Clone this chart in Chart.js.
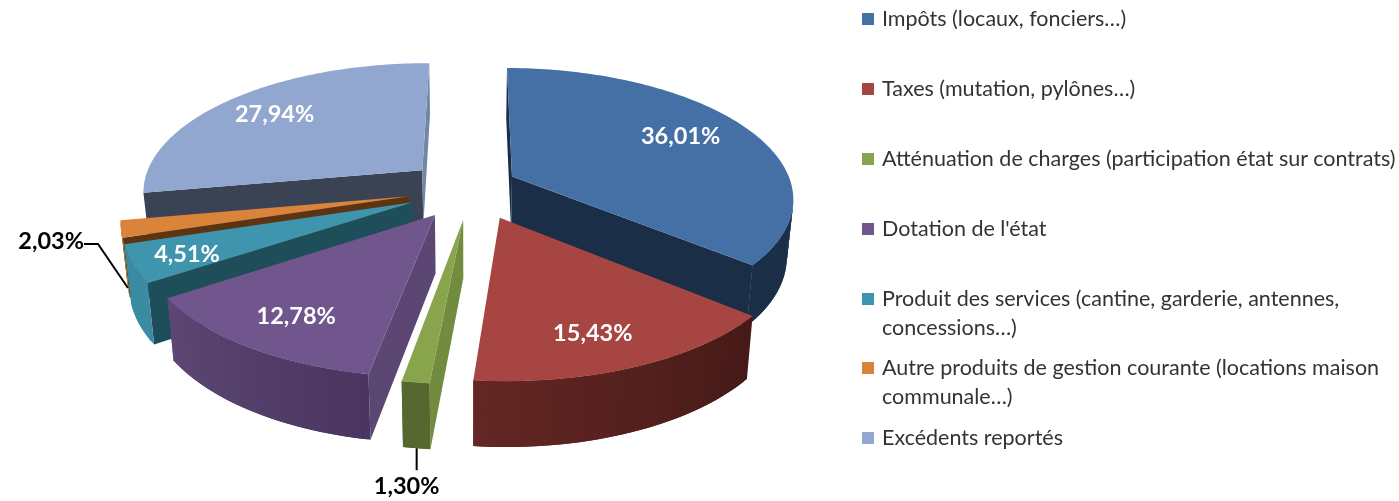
<!DOCTYPE html>
<html lang="fr">
<head>
<meta charset="utf-8">
<title>Recettes</title>
<script src="https://cdn.jsdelivr.net/npm/chart.js@4"></script>
<style>
  html, body { margin: 0; background: #fff; }
  #wrap { position: relative; width: 1399px; height: 501px; overflow: hidden; }
  #chart { position: absolute; left: 0; top: 0; }
  #legend {
    position: absolute; left: 862px; top: 4px; margin: 0; padding: 0; list-style: none;
    display: grid; grid-auto-rows: 69.9px; width: 537px;
    font: 21.5px/29px Lato, sans-serif; color: #333;
  }
  #legend li { display: flex; align-items: flex-start; white-space: nowrap; }
  #legend i { flex: none; width: 12px; height: 12px; margin: 9px 8px 0 0; }
</style>
</head>
<body>
<div id="wrap">
  <canvas id="chart" width="1399" height="501"></canvas>
  <ul id="legend"></ul>
</div>
<script>
const legendLines = [
  ["Impôts (locaux, fonciers…)"],
  ["Taxes (mutation, pylônes…)"],
  ["Atténuation de charges (participation état sur contrats)"],
  ["Dotation de l'état"],
  ["Produit des services (cantine, garderie, antennes,", "concessions…)"],
  ["Autre produits de gestion courante (locations maison", "communale…)"],
  ["Excédents reportés"]
];
const shares = [36.01, 15.43, 1.30, 12.78, 4.51, 2.03, 27.94];

// colours of each slice: top, cut at start edge, cut at end edge, rim from, rim to
const topColors   = ["#4570a5", "#a64542", "#88a44c", "#71568e", "#4095ae", "#d9833b", "#91a7cf"];
const startColors = ["#1a2e47", "#451a18", "#728c3f", "#5c4673", "#1f4e5b", "#5c3412", "#3a4354"];
const endColors   = ["#1a2e47", "#642724", "#56682f", "#5e4774", "#3b8ba2", "#b06c2e", "#7286a8"];
const rimFrom     = ["#1b2f48", "#451a18", "#56682f", "#4a3660", "#3b8ba2", "#b06c2e", "#3a4354"];
const rimTo       = ["#1b2f48", "#642724", "#56682f", "#5e4774", "#3b8ba2", "#b06c2e", "#3a4354"];

// extra sideways slide of each exploded slice, the original perspective pushes them unevenly
const slideX = [-4, 12, 6, 2, 0, 0, 0];
// how far along the slice radius the white label sits (null = outside with a leader)
const labelReach = [0.72, 0.78, null, 0.76, 0.8, null, 0.76];
const labelNudge = [[-2, -4], [-9, 4], null, [-1, 5], [-5, 3], null, [-2, 0]];
// leader line steps from the bottom of the rim, then where the text goes
const leaders = {
  2: { steps: [[0, 22]], align: "center", text: [-10, 16] },
  5: { steps: [[-30, -44], [-14, 0]], align: "right", text: [0, -3] }
};

const pct = (v) => v.toFixed(2).replace(".", ",") + "%";

// Legend
const legendEl = document.getElementById("legend");
legendLines.forEach((lines, i) => {
  const li = document.createElement("li");
  li.innerHTML = `<i style="background:${topColors[i]}"></i><span>${lines.join("<br>")}</span>`;
  legendEl.appendChild(li);
});

// Perspective of the pie plane, x/y are pixels from the pie centre
const tilt = 0.458, growX = 0.156, growY = 0.153, depth = 57, growZ = 0.11, lean = 0.02, leanShift = 5;
const explodeY = 1.15;

function projector(arc) {
  const R = arc.outerRadius;
  return (px, py) => {
    const v = py / R;
    const top = {
      x: arc.x + px / (1 - growX * v),
      y: arc.y + tilt * py / (1 - growY * v)
    };
    const low = {
      x: top.x - (top.x - arc.x - leanShift) * lean,
      y: top.y + depth / (1 - growZ * v)
    };
    return { top, low };
  };
}

function mix(a, b, t) {
  const n = (c, s) => parseInt(c.substr(s, 2), 16);
  const ch = (s) => Math.round(n(a, s) + (n(b, s) - n(a, s)) * t);
  return `rgb(${ch(1)},${ch(3)},${ch(5)})`;
}

function quad(ctx, a, b, color) {
  ctx.fillStyle = color;
  ctx.beginPath();
  ctx.moveTo(a.top.x, a.top.y);
  ctx.lineTo(b.top.x, b.top.y);
  ctx.lineTo(b.low.x, b.low.y);
  ctx.lineTo(a.low.x, a.low.y);
  ctx.closePath();
  ctx.fill();
}

// a side face only shows when its top edge runs right to left on screen
const facing = (a, b) => b.top.x < a.top.x;

function sliceParts(arc, i) {
  const project = projector(arc);
  const mid = (arc.startAngle + arc.endAngle) / 2;
  const ox = Math.cos(mid) * arc.options.offset + slideX[i];
  const oy = Math.sin(mid) * arc.options.offset * explodeY;
  const R = arc.outerRadius;
  const at = (a, r) => project(ox + Math.cos(a) * r, oy + Math.sin(a) * r);
  const rim = [];
  const steps = Math.max(2, Math.ceil((arc.endAngle - arc.startAngle) / 0.02));
  for (let s = 0; s <= steps; s++) {
    rim.push(at(arc.startAngle + (arc.endAngle - arc.startAngle) * s / steps, R));
  }
  return { apex: project(ox, oy), rim, mid, at, R, oy };
}

const pie3d = {
  id: "pie3d",
  beforeDatasetsDraw(chart) {
    const ctx = chart.ctx;
    const arcs = chart.getDatasetMeta(0).data;
    const parts = arcs.map(sliceParts);
    const order = arcs.map((_, i) => i).sort((a, b) => parts[a].oy - parts[b].oy);

    ctx.save();
    order.forEach((i) => {
      const { apex, rim } = parts[i];
      const last = rim.length - 1;
      if (facing(apex, rim[0])) quad(ctx, apex, rim[0], startColors[i]);
      if (facing(rim[last], apex)) quad(ctx, rim[last], apex, endColors[i]);
      for (let s = 0; s < last; s++) {
        // overlap the next strip so no seam shows between them
        if (facing(rim[s], rim[s + 1])) {
          quad(ctx, rim[s], rim[Math.min(s + 2, last)], mix(rimFrom[i], rimTo[i], s / last));
        }
      }
      ctx.fillStyle = topColors[i];
      ctx.beginPath();
      ctx.moveTo(apex.top.x, apex.top.y);
      rim.forEach((p) => ctx.lineTo(p.top.x, p.top.y));
      ctx.closePath();
      ctx.fill();
    });

    // Labels
    ctx.font = "bold 23.5px Lato, sans-serif";
    ctx.textBaseline = "middle";
    arcs.forEach((arc, i) => {
      const part = parts[i];
      if (labelReach[i] !== null) {
        const p = part.at(part.mid, part.R * labelReach[i]).top;
        ctx.fillStyle = "#fff";
        ctx.textAlign = "center";
        ctx.fillText(pct(shares[i]), p.x + labelNudge[i][0], p.y + labelNudge[i][1]);
        return;
      }
      const leader = leaders[i];
      let { x, y } = part.at(part.mid, part.R).low;
      ctx.strokeStyle = "#000";
      ctx.lineWidth = 2;
      ctx.beginPath();
      ctx.moveTo(x, y);
      leader.steps.forEach(([dx, dy]) => {
        x += dx; y += dy;
        ctx.lineTo(x, y);
      });
      ctx.stroke();
      ctx.fillStyle = "#000";
      ctx.textAlign = leader.align;
      ctx.fillText(pct(shares[i]), x + leader.text[0], y + leader.text[1]);
    });
    ctx.restore();
    return false;
  }
};

new Chart(document.getElementById("chart").getContext("2d"), {
  type: "pie",
  data: {
    labels: legendLines.map((l) => l.join(" ")),
    datasets: [{ data: shares, backgroundColor: topColors, borderWidth: 0, offset: 57 }]
  },
  options: {
    responsive: false,
    animation: false,
    rotation: 0.3,
    radius: 281,
    layout: { padding: { right: 469, bottom: 123 } },
    plugins: { legend: { display: false }, tooltip: { enabled: false } }
  },
  plugins: [pie3d]
});
</script>
</body>
</html>
